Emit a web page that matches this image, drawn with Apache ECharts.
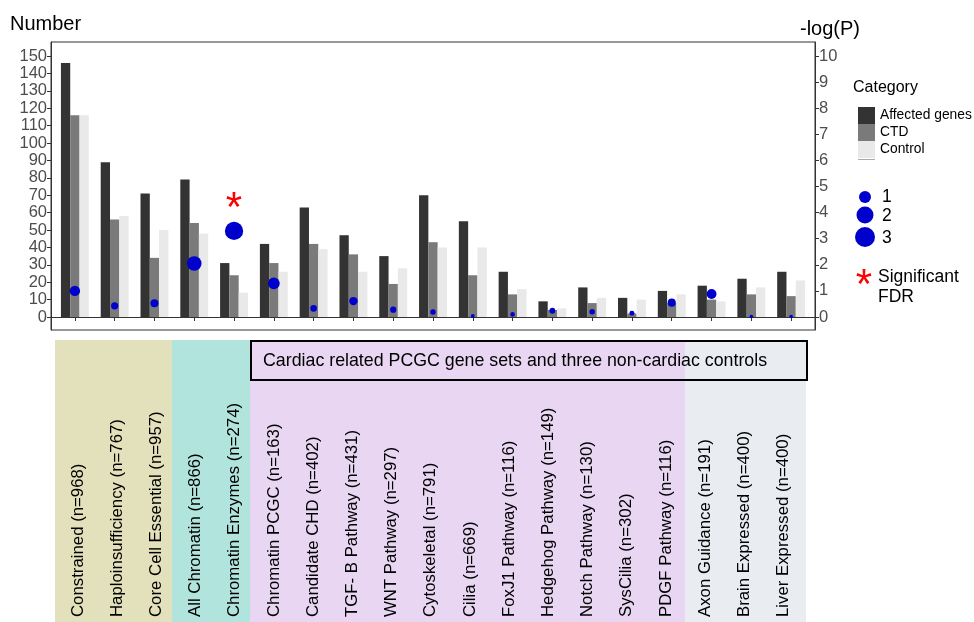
<!DOCTYPE html>
<html>
<head>
<meta charset="utf-8">
<script src="https://cdn.jsdelivr.net/npm/echarts@6/dist/echarts.min.js"></script>
<style>
html,body{margin:0;padding:0;background:#fff;}
#main{width:974px;height:622px;}
</style>
</head>
<body>
<div id="main"></div>
<script>
const categories = ['Constrained (n=968)', 'Haploinsufficiency (n=767)', 'Core Cell Essential (n=957)',
  'All Chromatin (n=866)', 'Chromatin Enzymes (n=274)', 'Chromatin PCGC (n=163)', 'Candidate CHD (n=402)',
  'TGF- B Pathway (n=431)', 'WNT Pathway (n=297)', 'Cytoskeletal (n=791)', 'Cilia (n=669)',
  'FoxJ1 Pathway (n=116)', 'Hedgehog Pathway (n=149)', 'Notch Pathway (n=130)', 'SysCilia (n=302)',
  'PDGF Pathway (n=116)', 'Axon Guidance (n=191)', 'Brain Expressed (n=400)', 'Liver Expressed (n=400)'];
const affected = [146, 89, 71, 79, 31, 42, 63, 47, 35, 70, 55, 26, 9, 17, 11, 15, 18, 22, 26];
const ctd      = [116, 56, 34, 54, 24, 31, 42, 36, 19, 43, 24, 13, 4, 8, 2, 8, 10, 13, 12];
const control  = [116, 58, 50, 48, 14, 26, 39, 26, 28, 40, 40, 16, 5, 11, 10, 13, 9, 17, 21];
const negLogP  = [1.0, 0.43, 0.53, 2.05, 3.3, 1.29, 0.33, 0.61, 0.28, 0.19, 0.04, 0.10, 0.24, 0.20, 0.14, 0.55, 0.88, 0.02, 0.02];
const significant = [false, false, false, false, true, false, false, false, false, false, false, false, false, false, false, false, false, false, false];
const leftTicks = [0, 10, 20, 30, 40, 50, 60, 70, 80, 90, 100, 110, 120, 130, 140, 150];
const rightTicks = [0, 1, 2, 3, 4, 5, 6, 7, 8, 9, 10];
const sizeLegend = ['1', '2', '3'];
const groupLabel = 'Cardiac related PCGC gene sets and three non-cardiac controls';

const FONT = '"Liberation Sans", Arial, Helvetica, sans-serif';
const positions = categories.map((c, i) => i + 1);
const pair = arr => arr.map((v, i) => [i + 1, v]);
const dotSize = v => Math.sqrt(11 + 98 * v);

const chart = echarts.init(document.getElementById('main'), null, {renderer: 'canvas'});
const option = {
  animation: false,
  textStyle: {fontFamily: FONT},
  grid: [
    {left: 51, right: 159, top: 42, bottom: 292, show: true, borderColor: '#333', borderWidth: 1, backgroundColor: 'transparent'},
    {left: 54.5, right: 167, bottom: 4, height: 1}
  ],
  xAxis: [
    {type: 'value', gridIndex: 0, min: 0.4, max: 19.6,
     axisLine: {show: true, lineStyle: {color: '#333', width: 1}},
     axisTick: {show: true, customValues: positions, length: 4, lineStyle: {color: '#333'}},
     axisLabel: {show: false}, splitLine: {show: false}},
    {type: 'value', gridIndex: 1, min: 0.4, max: 19.6, z: 10,
     axisLine: {show: false}, axisTick: {show: false}, splitLine: {show: false},
     axisLabel: {show: true, inside: true, rotate: 90, margin: 1, customValues: positions,
       fontSize: 16.8, color: '#000', fontFamily: FONT,
       formatter: v => categories[Math.round(v) - 1]}}
  ],
  yAxis: [
    {type: 'value', gridIndex: 0, position: 'left', min: -7.47, max: 158.05,
     axisLine: {show: true, lineStyle: {color: '#333'}},
     axisTick: {show: true, customValues: leftTicks, length: 4, lineStyle: {color: '#333'}},
     axisLabel: {customValues: leftTicks, fontSize: 16.5, color: '#4d4d4d', margin: 4, fontFamily: FONT},
     splitLine: {show: false}},
    {type: 'value', gridIndex: 0, position: 'right', min: -0.498, max: 10.537,
     axisLine: {show: true, lineStyle: {color: '#333'}},
     axisTick: {show: true, customValues: rightTicks, length: 4, lineStyle: {color: '#333'}},
     axisLabel: {customValues: rightTicks, fontSize: 16.5, color: '#4d4d4d', margin: 4, fontFamily: FONT},
     splitLine: {show: false}},
    {type: 'value', gridIndex: 1, show: false}
  ],
  legend: {
    data: ['Affected genes', 'CTD', 'Control'], orient: 'vertical', left: 858, top: 107,
    itemWidth: 17, itemHeight: 17, itemGap: 0, icon: 'rect', selectedMode: false,
    padding: 0, textStyle: {fontSize: 13.8, color: '#000', fontFamily: FONT}
  },
  series: [
    {name: 'Affected genes', type: 'bar', xAxisIndex: 0, yAxisIndex: 0, data: pair(affected),
     barWidth: 9.3, barGap: '0%', itemStyle: {color: '#333333'}},
    {name: 'CTD', type: 'bar', xAxisIndex: 0, yAxisIndex: 0, data: pair(ctd),
     barWidth: 9.3, barGap: '0%', itemStyle: {color: '#7a7a7a'}},
    {name: 'Control', type: 'bar', xAxisIndex: 0, yAxisIndex: 0, data: pair(control),
     barWidth: 9.3, barGap: '0%', itemStyle: {color: '#e9e9e9'}},
    {name: 'negLogP', type: 'scatter', xAxisIndex: 0, yAxisIndex: 1, z: 5,
     data: negLogP.map((v, i) => ({value: [i + 1, v], label: {show: significant[i]}})),
     symbolSize: d => dotSize(d[1]),
     itemStyle: {color: '#0000cd', opacity: 1},
     label: {position: 'inside', offset: [0, -21], formatter: '*', color: '#ff0000', fontSize: 42, fontFamily: FONT}}
  ],
  graphic: [
    {type: 'rect', z: -10, shape: {x: 55, y: 340, width: 117, height: 282}, style: {fill: '#e2e1bb'}},
    {type: 'rect', z: -10, shape: {x: 172, y: 340, width: 78, height: 282}, style: {fill: '#b1e4dc'}},
    {type: 'rect', z: -10, shape: {x: 250, y: 340, width: 435, height: 282}, style: {fill: '#e8d6f2'}},
    {type: 'rect', z: -10, shape: {x: 685, y: 340, width: 121, height: 282}, style: {fill: '#e9ecf1'}},
    {type: 'rect', z: 5, shape: {x: 251, y: 341, width: 556, height: 39}, style: {fill: 'transparent', stroke: '#000', lineWidth: 2}},
    {type: 'text', z: 6, x: 263, y: 361, style: {text: groupLabel, font: '17.8px ' + FONT, fill: '#000', textVerticalAlign: 'middle', textAlign: 'left'}},
    {type: 'text', x: 10, y: 24, style: {text: 'Number', font: '20px ' + FONT, fill: '#000', textVerticalAlign: 'middle'}},
    {type: 'text', x: 800, y: 29, style: {text: '-log(P)', font: '20px ' + FONT, fill: '#000', textVerticalAlign: 'middle'}},
    {type: 'text', x: 853, y: 88, style: {text: 'Category', font: '16px ' + FONT, fill: '#000', textVerticalAlign: 'middle'}},
    {type: 'line', shape: {x1: 858, y1: 159.5, x2: 875, y2: 159.5}, style: {stroke: '#aaa', lineWidth: 1}},
    {type: 'circle', shape: {cx: 865, cy: 197, r: 6}, style: {fill: '#0000cd'}},
    {type: 'circle', shape: {cx: 865, cy: 215, r: 8.5}, style: {fill: '#0000cd'}},
    {type: 'circle', shape: {cx: 865, cy: 237, r: 10}, style: {fill: '#0000cd'}},
    {type: 'text', x: 882, y: 197, style: {text: sizeLegend[0], font: '17.5px ' + FONT, fill: '#000', textVerticalAlign: 'middle'}},
    {type: 'text', x: 882, y: 216, style: {text: sizeLegend[1], font: '17.5px ' + FONT, fill: '#000', textVerticalAlign: 'middle'}},
    {type: 'text', x: 882, y: 238, style: {text: sizeLegend[2], font: '17.5px ' + FONT, fill: '#000', textVerticalAlign: 'middle'}},
    {type: 'text', x: 864, y: 286, style: {text: '*', font: '42px ' + FONT, fill: '#ff0000', textVerticalAlign: 'middle', textAlign: 'center'}},
    {type: 'text', x: 878, y: 277, style: {text: 'Significant', font: '17.5px ' + FONT, fill: '#000', textVerticalAlign: 'middle'}},
    {type: 'text', x: 878, y: 297, style: {text: 'FDR', font: '17.5px ' + FONT, fill: '#000', textVerticalAlign: 'middle'}}
  ]
};
chart.setOption(option);
</script>
</body>
</html>
